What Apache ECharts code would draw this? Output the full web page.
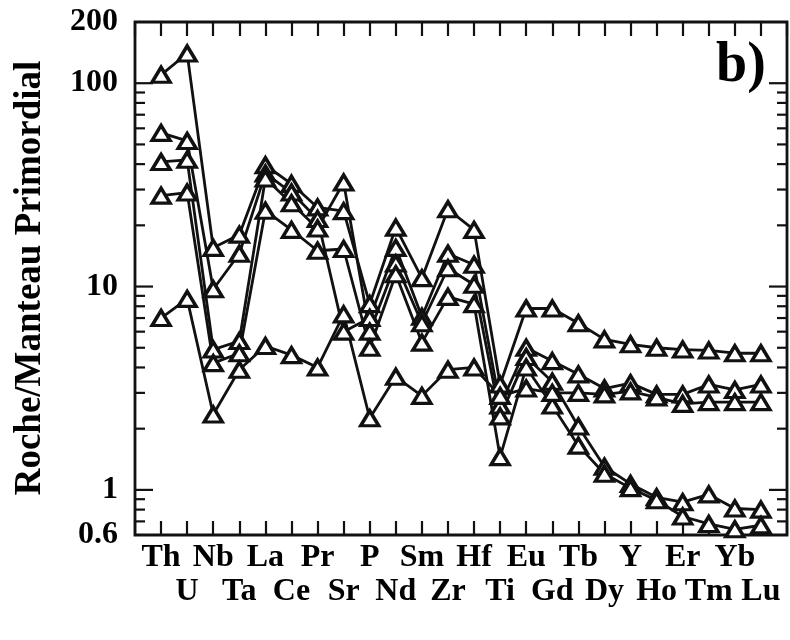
<!DOCTYPE html>
<html>
<head>
<meta charset="utf-8">
<script src="https://cdn.jsdelivr.net/npm/echarts@6/dist/echarts.min.js"></script>
<style>
  html, body { margin: 0; padding: 0; background: #fff; }
  #chart { width: 790px; height: 640px; }
</style>
</head>
<body>
<div id="chart"></div>
<script>
// Elements in spider-diagram order (primitive-mantle normalised)
const elements = ['Th','U','Nb','Ta','La','Ce','Pr','Sr','P','Nd','Sm','Zr','Hf','Ti','Eu','Gd','Tb','Dy','Y','Ho','Er','Tm','Yb','Lu'];

// Rock / primitive mantle ratios, one array per sample
const sample1 = [110, 140, 15.5, 18, 39.5, 32, 24.5, 23.5, 8.2, 19.5, 11, 24, 19, 3.3, 7.8, 7.8, 6.6, 5.5, 5.2, 5.0, 4.9, 4.85, 4.7, 4.7];
const sample2 = [57, 52, 9.7, 14.5, 36, 29, 21.5, 6.0, 7.0, 15.5, 7.1, 14.5, 12.8, 2.6, 5.0, 4.3, 3.7, 3.15, 3.35, 2.95, 2.95, 3.3, 3.1, 3.3];
const sample3 = [41, 42, 4.9, 5.4, 34, 25.7, 19.3, 32.5, 6.0, 13, 6.6, 12.3, 10.2, 2.3, 4.5, 3.4, 2.05, 1.3, 1.07, 0.92, 0.87, 0.95, 0.81, 0.8];
const sample4 = [28, 29, 4.2, 4.7, 23.6, 19, 15, 15.3, 5.0, 11.5, 5.3, 8.9, 8.2, 1.45, 4.0, 2.6, 1.65, 1.2, 1.02, 0.89, 0.74, 0.68, 0.64, 0.67];
const sample5 = [7, 8.7, 2.35, 3.9, 5.1, 4.6, 4.0, 7.3, 2.25, 3.6, 2.9, 3.9, 4.0, 2.9, 3.15, 3.0, 3.0, 2.95, 3.05, 2.85, 2.65, 2.7, 2.7, 2.7];

// Log-axis tick marks and labels
const yLabelValues = [0.6, 1, 10, 100, 200];
const yMajorTicks = [1, 10, 100];
const yMinorTicks = [0.7, 0.8, 0.9, 2, 3, 4, 5, 6, 7, 8, 9, 20, 30, 40, 50, 60, 70, 80, 90];

const samples = [sample1, sample2, sample3, sample4, sample5];
const X_MIN = -1, X_MAX = elements.length;
const INK = '#111';
const SERIF = '"Liberation Serif", "Times New Roman", serif';

const chart = echarts.init(document.getElementById('chart'), null, { renderer: 'canvas' });

const labelFont = { fontSize: 32, fontWeight: 'bold', fontFamily: SERIF, color: '#000' };

const xBase = {
  type: 'value', min: X_MIN, max: X_MAX, interval: 1,
  axisLine: { show: false },
  splitLine: { show: false }
};

const tickSeries = {
  type: 'custom',
  xAxisIndex: 0, yAxisIndex: 0,
  silent: true,
  z: 5,
  data: yMajorTicks.map(v => [X_MIN, v, 1]).concat(yMinorTicks.map(v => [X_MIN, v, 0])),
  renderItem: function (params, api) {
    const v = api.value(1);
    const len = api.value(2) ? 18 : 10;
    const l = api.coord([X_MIN, v]);
    const r = api.coord([X_MAX, v]);
    const ls = { stroke: INK, lineWidth: 2.2 };
    return {
      type: 'group',
      children: [
        { type: 'line', shape: { x1: l[0], y1: l[1], x2: l[0] + len, y2: l[1] }, style: ls },
        { type: 'line', shape: { x1: r[0] - len, y1: r[1], x2: r[0], y2: r[1] }, style: ls }
      ]
    };
  }
};

const yLabelSeries = {
  type: 'custom',
  xAxisIndex: 0, yAxisIndex: 0,
  silent: true,
  data: yLabelValues.map(v => [X_MIN, v]),
  renderItem: function (params, api) {
    const v = api.value(1);
    const p = api.coord([X_MIN, v]);
    return {
      type: 'text',
      x: p[0] - 17, y: p[1],
      style: {
        text: String(v),
        fill: '#000',
        font: 'bold 32px ' + SERIF,
        align: 'right',
        verticalAlign: 'middle'
      }
    };
  }
};

const lineSeries = samples.map((s, k) => ({
  type: 'line',
  name: 'sample' + (k + 1),
  data: s.map((v, i) => [i, v]),
  symbol: 'triangle',
  symbolSize: [18, 15],
  showAllSymbol: true,
  lineStyle: { color: INK, width: 2.8 },
  itemStyle: { color: '#fff', borderColor: INK, borderWidth: 3.4 },
  emphasis: { disabled: true },
  z: 3
}));

chart.setOption({
  animation: false,
  backgroundColor: '#fff',
  grid: {
    left: 135, right: 3, top: 22, bottom: 105,
    show: true, borderColor: INK, borderWidth: 2.8, backgroundColor: 'transparent'
  },
  xAxis: [
    Object.assign({}, xBase, {
      position: 'bottom',
      axisTick: { show: true, inside: true, length: 14, lineStyle: { color: INK, width: 2.2 } },
      axisLabel: Object.assign({}, labelFont, {
        margin: 7,
        formatter: v => (v >= 0 && v < elements.length && v % 2 === 0) ? elements[v] : ''
      })
    }),
    Object.assign({}, xBase, {
      position: 'bottom', offset: 34,
      axisTick: { show: false },
      axisLabel: Object.assign({}, labelFont, {
        margin: 7,
        formatter: v => (v >= 0 && v < elements.length && v % 2 === 1) ? elements[v] : ''
      })
    }),
    Object.assign({}, xBase, {
      position: 'top',
      axisTick: { show: true, inside: true, length: 14, lineStyle: { color: INK, width: 2.2 } },
      axisLabel: { show: false }
    })
  ],
  yAxis: [{
    type: 'log', logBase: 10, min: 0.6, max: 200,
    axisLine: { show: false },
    axisTick: { show: false },
    axisLabel: { show: false },
    splitLine: { show: false }
  }],
  graphic: [
    {
      type: 'text', x: 30, y: 278, rotation: Math.PI / 2,
      style: {
        text: 'Roche/Manteau Primordial',
        fill: '#000', font: 'bold 37px ' + SERIF,
        align: 'center', verticalAlign: 'middle'
      }
    },
    {
      type: 'text', x: 716, y: 67,
      style: {
        text: 'b)',
        fill: '#000', font: 'bold 56px ' + SERIF,
        align: 'left', verticalAlign: 'middle'
      }
    }
  ],
  series: [tickSeries, yLabelSeries].concat(lineSeries)
});
</script>
</body>
</html>
